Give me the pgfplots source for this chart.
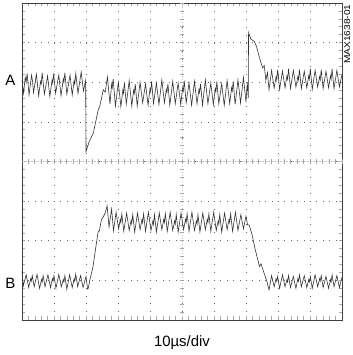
\documentclass[border=0pt]{standalone}
\usepackage{fontspec}
\setmainfont{Liberation Sans}
\usepackage{pgfplots}
\pgfplotsset{compat=1.18}

% Trace A (upper channel), in screen divisions
\newcommand{\traceA}{
(0.00,6.05) (0.05,5.72) (0.10,6.12) (0.13,6.00) (0.16,6.22) (0.22,5.68) (0.30,6.18) (0.33,6.02)
(0.36,5.74) (0.45,6.20) (0.52,5.66) (0.58,6.02) (0.60,5.96) (0.63,6.24) (0.70,5.70) (0.80,6.16)
(0.87,5.64) (0.94,6.06) (0.96,5.98) (0.99,6.22) (1.05,5.72) (1.15,6.18) (1.22,5.66) (1.29,6.08)
(1.31,6.00) (1.34,6.24) (1.40,5.70) (1.50,6.18) (1.57,5.68) (1.63,6.04) (1.65,5.96) (1.68,6.22)
(1.75,5.72) (1.85,6.26) (1.92,5.78) (1.99,6.05) (2.00,4.25) (2.10,4.50) (2.23,4.72) (2.38,5.30)
(2.43,5.39) (2.54,5.81) (2.60,5.75) (2.67,6.13) (2.75,5.45) (2.80,5.95) (2.82,5.86) (2.85,6.08)
(2.92,5.40) (3.01,6.00) (3.09,5.38) (3.15,5.80) (3.17,5.72) (3.20,5.98) (3.26,5.45) (3.35,6.04)
(3.43,5.40) (3.49,5.80) (3.51,5.72) (3.54,5.95) (3.60,5.40) (3.69,6.00) (3.77,5.48) (3.86,5.96)
(3.94,5.42) (4.00,5.84) (4.02,5.76) (4.05,6.02) (4.11,5.46) (4.20,5.98) (4.28,5.44) (4.37,6.06)
(4.45,5.48) (4.51,5.82) (4.53,5.74) (4.56,5.96) (4.62,5.42) (4.71,6.02) (4.79,5.46) (4.88,5.98)
(4.96,5.44) (5.02,5.86) (5.04,5.78) (5.07,6.04) (5.13,5.48) (5.22,5.98) (5.30,5.42) (5.39,6.02)
(5.47,5.46) (5.53,5.82) (5.55,5.74) (5.58,5.96) (5.64,5.42) (5.73,6.06) (5.81,5.46) (5.90,5.98)
(5.98,5.44) (6.04,5.84) (6.06,5.76) (6.09,6.02) (6.15,5.46) (6.24,5.96) (6.32,5.42) (6.41,6.04)
(6.49,5.46) (6.55,5.86) (6.57,5.78) (6.60,6.02) (6.66,5.44) (6.75,6.06) (6.83,5.48) (6.92,6.12)
(7.00,5.50) (7.04,6.00) (7.07,5.60) (7.08,7.26) (7.15,7.09) (7.26,7.03) (7.33,6.90) (7.41,6.65)
(7.52,6.36) (7.57,6.42) (7.62,6.05) (7.67,6.25) (7.72,5.81) (7.80,6.30) (7.88,5.85) (7.94,6.14)
(7.96,6.06) (7.99,6.32) (8.05,5.82) (8.14,6.28) (8.22,5.86) (8.28,6.16) (8.30,6.08) (8.33,6.34)
(8.39,5.84) (8.48,6.30) (8.56,5.88) (8.62,6.14) (8.64,6.06) (8.67,6.32) (8.73,5.84) (8.82,6.28)
(8.90,5.86) (8.96,6.16) (8.98,6.08) (9.01,6.34) (9.07,5.82) (9.16,6.30) (9.24,5.88) (9.30,6.14)
(9.32,6.06) (9.35,6.32) (9.41,5.84) (9.50,6.28) (9.58,5.86) (9.64,6.16) (9.66,6.08) (9.69,6.34)
(9.75,5.84) (9.84,6.30) (9.92,5.88) (10.00,6.20)
}

% Trace B (lower channel)
\newcommand{\traceB}{
(0.00,1.22) (0.04,0.86) (0.13,1.14) (0.21,0.82) (0.27,1.04) (0.29,0.98) (0.32,1.12) (0.38,0.84)
(0.47,1.15) (0.55,0.80) (0.61,1.02) (0.63,0.96) (0.66,1.12) (0.72,0.84) (0.81,1.14) (0.89,0.82)
(0.95,1.04) (0.97,0.98) (1.00,1.12) (1.06,0.80) (1.15,1.15) (1.23,0.84) (1.29,1.02) (1.31,0.96)
(1.34,1.12) (1.40,0.78) (1.49,1.14) (1.57,0.82) (1.63,1.04) (1.65,0.98) (1.68,1.16) (1.74,0.84)
(1.83,1.12) (1.91,0.82) (2.00,1.10) (2.05,0.78) (2.07,0.80) (2.12,1.01) (2.22,1.35) (2.30,1.80)
(2.38,2.23) (2.42,2.25) (2.48,2.53) (2.55,2.62) (2.60,2.70) (2.66,2.88) (2.72,2.35) (2.80,2.80)
(2.86,2.25) (2.94,2.72) (3.02,2.30) (3.07,2.54) (3.09,2.46) (3.12,2.68) (3.18,2.24) (3.27,2.70)
(3.35,2.26) (3.41,2.52) (3.43,2.44) (3.46,2.66) (3.52,2.22) (3.61,2.70) (3.69,2.28) (3.75,2.54)
(3.77,2.46) (3.80,2.68) (3.86,2.24) (3.95,2.72) (4.03,2.26) (4.09,2.50) (4.11,2.42) (4.14,2.66)
(4.20,2.22) (4.29,2.70) (4.37,2.28) (4.43,2.54) (4.45,2.46) (4.48,2.68) (4.54,2.24) (4.63,2.72)
(4.71,2.26) (4.77,2.50) (4.79,2.42) (4.82,2.66) (4.88,2.22) (4.97,2.70) (5.05,2.28) (5.11,2.54)
(5.13,2.46) (5.16,2.68) (5.22,2.24) (5.31,2.72) (5.39,2.26) (5.45,2.50) (5.47,2.42) (5.50,2.66)
(5.56,2.22) (5.65,2.70) (5.73,2.28) (5.79,2.54) (5.81,2.46) (5.84,2.68) (5.90,2.24) (5.99,2.72)
(6.07,2.26) (6.13,2.50) (6.15,2.42) (6.18,2.66) (6.24,2.22) (6.33,2.70) (6.41,2.28) (6.47,2.54)
(6.49,2.46) (6.52,2.68) (6.58,2.24) (6.67,2.72) (6.75,2.26) (6.84,2.66) (6.92,2.30) (7.00,2.62)
(7.05,2.40) (7.10,2.40) (7.19,2.15) (7.29,1.77) (7.37,1.52) (7.42,1.35) (7.47,1.42) (7.55,1.22)
(7.64,1.01) (7.72,0.76) (7.80,1.12) (7.88,0.84) (7.94,1.04) (7.96,0.98) (7.99,1.10) (8.05,0.80)
(8.14,1.14) (8.22,0.84) (8.28,1.02) (8.30,0.96) (8.33,1.12) (8.39,0.82) (8.48,1.10) (8.56,0.80)
(8.62,1.04) (8.64,0.98) (8.67,1.14) (8.73,0.84) (8.82,1.12) (8.90,0.82) (8.96,1.02) (8.98,0.96)
(9.01,1.10) (9.07,0.80) (9.16,1.14) (9.24,0.84) (9.30,1.04) (9.32,0.98) (9.35,1.12) (9.41,0.82)
(9.50,1.10) (9.58,0.80) (9.64,1.02) (9.66,0.96) (9.69,1.14) (9.75,0.84) (9.84,1.12) (9.92,0.82)
(10.00,1.08)
}

\begin{document}
\begin{tikzpicture}
\path[use as bounding box] (-22bp,-35bp) rectangle (331bp,320bp);
\begin{axis}[
  at={(0,0)}, anchor=south west,
  scale only axis, width=320bp, height=317bp,
  xmin=0, xmax=10, ymin=0, ymax=8,
  clip=false,
  xtick={0,...,10}, ytick={0,...,8},
  minor x tick num=4, minor y tick num=4,
  xticklabels={}, yticklabels={},
  tick align=inside,
  major tick length=3.5bp, minor tick length=3.5bp,
  tick style={black!35, line width=0.6pt},
  axis line style={black!75, line width=0.8pt},
  xmajorgrids, ymajorgrids,
  major x grid style={black!60, line width=0.7pt, dash pattern=on 0.7bp off 7.2bp},
  major y grid style={black!60, line width=0.7pt, dash pattern=on 0.7bp off 5.7bp},
]
% centre crosshair: light lines with fine graduations
\draw[black!25, line width=1pt, dash pattern=on 2bp off 1bp] (axis cs:0,4) -- (axis cs:10,4);
\draw[black!25, line width=0.8pt, dash pattern=on 1bp off 2bp] (axis cs:5,0) -- (axis cs:5,8);
\pgfplotsinvokeforeach{0.2,0.4,...,9.9}{
  \draw[black!35, line width=0.7pt] (axis cs:#1,3.94) -- (axis cs:#1,4.06);
}
\pgfplotsinvokeforeach{0.2,0.4,...,7.9}{
  \draw[black!35, line width=0.7pt] (axis cs:4.93,#1) -- (axis cs:5.07,#1);
}

\addplot[black!80, line width=0.6pt, mark=none] coordinates {\traceA};
\addplot[black!80, line width=0.6pt, mark=none] coordinates {\traceB};

\node[font=\fontsize{15}{15}\selectfont] at (axis cs:-0.36,6.06) {A};
\node[font=\fontsize{15}{15}\selectfont] at (axis cs:-0.36,0.93) {B};
\node[font=\fontsize{15}{15}\selectfont, anchor=base] at (axis cs:5,-0.68) {10µs/div};
\node[font=\fontsize{8.5}{8.5}\selectfont, rotate=90, anchor=north east, inner sep=0pt]
  at (axis cs:10.06,7.97) {\scalebox{1.2}[1]{MAX1638-01}};
\end{axis}
\end{tikzpicture}
\end{document}
